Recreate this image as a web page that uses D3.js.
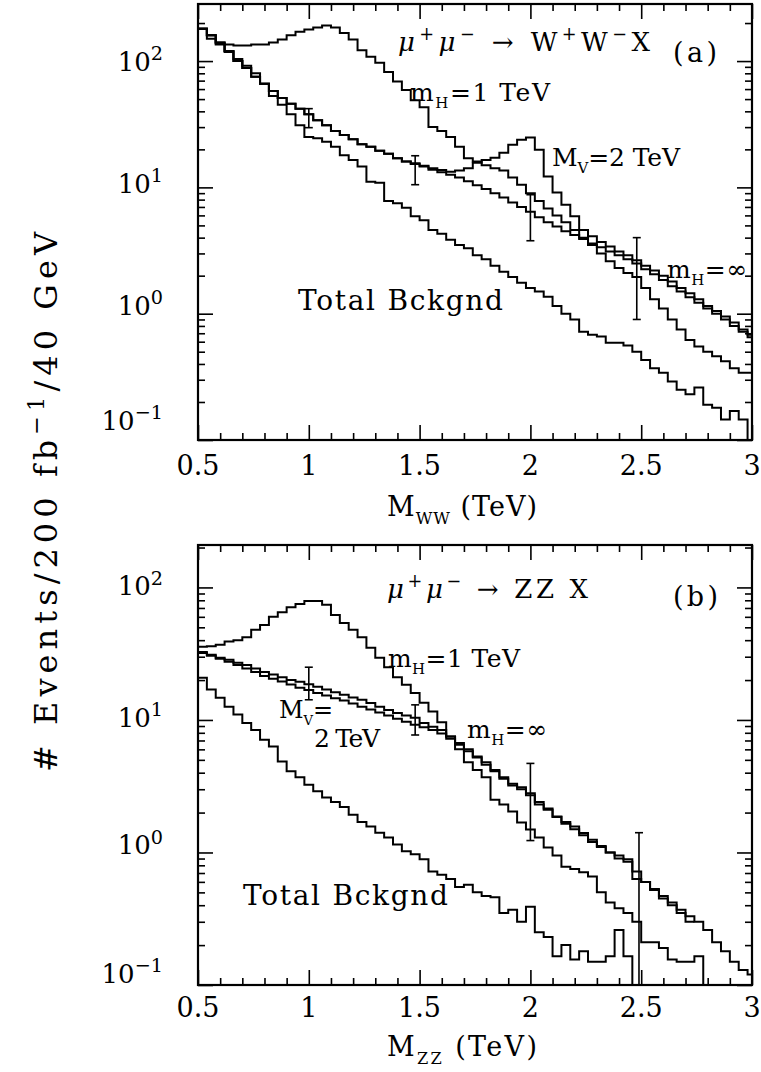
<!DOCTYPE html>
<html><head><meta charset="utf-8">
<script src="https://cdn.jsdelivr.net/npm/d3@7"></script>
<style>body{margin:0;background:#fff}text{font-family:"DejaVu Serif",serif;fill:#000}</style>
</head><body>
<svg id="c" width="761" height="1072"></svg>
<script>
// ---------- DATA ----------
const binLo = [0.50,0.54,0.58,0.62,0.66,0.70,0.74,0.78,0.82,0.86,0.90,0.94,0.98,1.02,1.06,1.10,1.14,1.18,1.22,1.26,1.30,1.34,1.38,1.42,1.46,1.50,1.54,1.58,1.62,1.66,1.70,1.74,1.78,1.82,1.86,1.90,1.94,1.98,2.02,2.06,2.10,2.14,2.18,2.22,2.26,2.30,2.34,2.38,2.42,2.46,2.50,2.54,2.58,2.62,2.66,2.70,2.74,2.78,2.82,2.86,2.90,2.94,2.98];
const binWidth = 0.04;

// panel (a): mu+mu- -> W+W-X
const wwH1 = [180,150,138,135,133,133,135,135,140,148,160,171,178,184,191,184,167,148,122,108,97,82,69,59,49,43,30,28,25,21,17,16,15,14.2,13.6,12,10.5,9.0,7.8,6.8,6.0,5.3,4.6,4.0,3.5,3.0,2.6,2.3,2.1,1.95,1.6,1.3,1.1,0.9,0.75,0.62,0.55,0.5,0.46,0.42,0.37,0.34,0.34];
const wwMV = [180,160,140,120,100,88,75,66,58,51,46,42,38,34,31,28,26,24,22,21,19.5,18.5,17,16,15.5,14.8,14.2,13.7,13.3,13.6,14.2,15.7,16.5,17.2,18.8,21.8,23.8,24.8,19.9,12.2,9.1,7.3,5.9,4.6,4.1,3.7,3.4,3.1,2.9,2.65,2.4,2.2,2.0,1.8,1.6,1.45,1.3,1.15,1.05,0.95,0.85,0.75,0.68];
const wwHinf = [180,160,140,120,100,88,75,66,58,51,46,42,38,34,31,28,26,24,22,21,19.5,18.5,17,16,15.3,14.6,13.8,13.2,12.6,12,11.2,10.4,9.7,9.0,8.3,7.6,7.0,6.4,5.8,5.3,4.9,4.5,4.2,3.9,3.6,3.35,3.1,2.9,2.7,2.5,2.25,2.05,1.85,1.65,1.5,1.35,1.22,1.1,1.0,0.9,0.8,0.72,0.65];
const wwBkg = [180,160,135,118,104,92,80,66,53,45,38,31,25,24.5,23,21,18,16.5,14.6,11.1,10.9,7.8,7.5,6.9,5.9,5.5,4.6,4.3,3.85,3.5,3.3,2.9,2.7,2.4,2.15,1.95,1.76,1.6,1.5,1.36,1.15,1.0,0.9,0.72,0.68,0.66,0.59,0.59,0.56,0.5,0.43,0.37,0.34,0.29,0.25,0.23,0.26,0.19,0.18,0.145,0.17,0.145,0.05];
const wwErrX = [1.00,1.48,2.00,2.48];
const wwErrLo = [29.7,10.5,3.78,0.90];
const wwErrHi = [42,17.8,8.75,4.0];

// panel (b): mu+mu- -> ZZ X
const zzH1 = [35.6,36,37,39,40,42,48,52,60,65,71,75,79,79,74,62,54,48,42,35,29.5,25,21,18.4,16,13.5,11.6,9.6,7.5,6.0,4.8,4.2,3.7,2.5,2.3,2.04,1.68,1.49,1.3,1.09,0.95,0.78,0.75,0.71,0.66,0.5,0.42,0.38,0.35,0.30,0.21,0.21,0.19,0.156,0.15,0.15,0.165,0.05,0.05,0.05,0.05,0.05,0.05];
const zzMV = [32,30.5,29,27.5,26,24.5,23,21.5,20.5,19.5,18.5,17.5,16.8,16,15.3,14.6,14,13.3,12.6,12,11.4,10.8,10.2,9.7,9.2,8.8,8.4,7.9,7.2,6.5,5.8,5.2,4.6,4.1,3.6,3.2,3.0,2.7,2.3,2.1,1.85,1.65,1.5,1.35,1.2,1.1,1.0,0.9,0.85,0.72,0.6,0.52,0.45,0.4,0.35,0.3,null,null,null,null,null,null,null];
const zzHinf = [32.6,31,29.5,28.5,27,26,24.5,23,22,21,20,19.4,18.6,17.8,17,16.2,15.5,14.8,14.2,13.4,12.6,11.9,11.3,10.8,10.4,9.5,8.9,8.4,7.5,6.7,6.0,5.3,4.8,4.2,3.7,3.3,3.1,2.8,2.4,2.15,1.87,1.7,1.57,1.4,1.25,1.12,1.0,0.95,0.89,0.63,0.6,0.53,0.47,0.42,0.37,0.33,0.3,0.26,0.21,0.18,0.15,0.13,0.12];
const zzBkg = [20.8,17,14.7,12.6,11,9.5,8.4,7.1,6.3,4.85,4.1,3.7,3.25,2.9,2.6,2.4,2.2,1.93,1.7,1.57,1.41,1.3,1.15,1.02,0.97,0.89,0.72,0.68,0.63,0.55,0.57,0.5,0.47,0.46,0.35,0.37,0.30,0.39,0.25,0.23,0.165,0.2,0.156,0.18,0.15,0.15,0.165,0.26,0.165,0.05,0.05,0.05,0.05,0.05,0.05,0.05,0.05,0.05,0.05,0.05,0.05,0.05,0.05];
const zzErrX = [1.00,1.48,2.00,2.49];
const zzErrLo = [14.2,7.7,1.23,0.05];
const zzErrHi = [25,13,4.7,1.41];

const xMajor = [0.5,1,1.5,2,2.5,3];
const xLabels = ["0.5","1","1.5","2","2.5","3"];
const yMajor = [0.1,1,10,100];
const yExp = ["\u22121","0","1","2"];

// ---------- DRAW ----------
const svg = d3.select("#c");

function rich(sel, x, y, parts, size, anchor, len) {
  const t = sel.append("text").attr("x", x).attr("y", y).attr("font-size", size)
    .attr("text-anchor", anchor || "start");
  let cur = 0;
  parts.forEach(p => {
    const shift = p.sup ? -0.42 * size : p.sub ? 0.28 * size : 0;
    const ts = t.append("tspan").text(p.t).attr("dy", shift - cur);
    if (p.sup || p.sub) ts.attr("font-size", size * (p.fs || 0.68));
    if (p.it) ts.attr("font-style", "italic");
    cur = shift;
  });
  if (len) t.attr("textLength", len).attr("lengthAdjust", "spacing");
  return t;
}

function panel(cfg) {
  const x = d3.scaleLinear().domain([0.5, 3]).range([cfg.left, cfg.right]);
  const y = d3.scaleLog().domain(cfg.yDom).range([cfg.bottom, cfg.top]);
  const g = svg.append("g");
  const id = "clip" + cfg.name;
  svg.append("clipPath").attr("id", id).append("rect")
    .attr("x", cfg.left).attr("y", cfg.top).attr("width", cfg.right - cfg.left).attr("height", cfg.bottom - cfg.top);

  const xMinor = d3.range(5, 31).map(v => v / 10).filter(v => xMajor.indexOf(v) < 0);
  const yMinor = [];
  [0.1, 1, 10, 100].forEach(d => { for (let m = 2; m <= 9; m++) { const v = d * m; if (v <= cfg.yDom[1]) yMinor.push(v); } });
  const tickStyle = s => { s.select(".domain").remove(); s.selectAll("line").attr("stroke", "#000").attr("stroke-width", 1.6); };
  g.append("g").attr("transform", `translate(0,${cfg.bottom})`).call(d3.axisBottom(x).tickValues(xMajor).tickSize(-15).tickFormat("")).call(tickStyle);
  g.append("g").attr("transform", `translate(0,${cfg.bottom})`).call(d3.axisBottom(x).tickValues(xMinor).tickSize(-7).tickFormat("")).call(tickStyle);
  g.append("g").attr("transform", `translate(0,${cfg.top})`).call(d3.axisTop(x).tickValues(xMajor).tickSize(-15).tickFormat("")).call(tickStyle);
  g.append("g").attr("transform", `translate(0,${cfg.top})`).call(d3.axisTop(x).tickValues(xMinor).tickSize(-7).tickFormat("")).call(tickStyle);
  g.append("g").attr("transform", `translate(${cfg.left},0)`).call(d3.axisLeft(y).tickValues(yMajor).tickSize(-15).tickFormat("")).call(tickStyle);
  g.append("g").attr("transform", `translate(${cfg.left},0)`).call(d3.axisLeft(y).tickValues(yMinor).tickSize(-7).tickFormat("")).call(tickStyle);
  g.append("g").attr("transform", `translate(${cfg.right},0)`).call(d3.axisRight(y).tickValues(yMajor).tickSize(-15).tickFormat("")).call(tickStyle);
  g.append("g").attr("transform", `translate(${cfg.right},0)`).call(d3.axisRight(y).tickValues(yMinor).tickSize(-7).tickFormat("")).call(tickStyle);

  const curves = g.append("g").attr("clip-path", `url(#${id})`);
  cfg.series.forEach(vals => {
    let d = "", open = false;
    vals.forEach((v, i) => {
      if (v == null) { open = false; return; }
      const x0 = x(binLo[i]), x1 = x(binLo[i] + binWidth), yy = y(v);
      if (!open) { d += `M${x0},${yy}`; open = true; } else { d += `V${yy}`; }
      d += `H${x1}`;
    });
    curves.append("path").attr("d", d).attr("fill", "none").attr("stroke", "#000").attr("stroke-width", 2);
  });
  cfg.errX.forEach((xv, i) => {
    const xx = x(xv), y0 = y(cfg.errLo[i]), y1 = y(cfg.errHi[i]);
    curves.append("line").attr("x1", xx).attr("x2", xx).attr("y1", y0).attr("y2", y1).attr("stroke", "#000").attr("stroke-width", 1.6);
    [y0, y1].forEach(yy => curves.append("line").attr("x1", xx - 4).attr("x2", xx + 4).attr("y1", yy).attr("y2", yy).attr("stroke", "#000").attr("stroke-width", 1.6));
  });

  g.append("rect").attr("x", cfg.left).attr("y", cfg.top).attr("width", cfg.right - cfg.left).attr("height", cfg.bottom - cfg.top)
    .attr("fill", "none").attr("stroke", "#000").attr("stroke-width", 2.2);

  xMajor.forEach((v, i) => g.append("text").attr("x", x(v)).attr("y", cfg.bottom + cfg.xLabDy).attr("text-anchor", "middle").attr("font-size", 27).text(xLabels[i]));
  yMajor.forEach((v, i) => rich(g, 163, y(v) + cfg.yLabDy[i], [{ t: "10" }, { t: yExp[i], sup: true, fs: 0.74 }], 26, "end"));
  return { g, x, y };
}

panel({ name: "a", left: 198, right: 752, top: 4, bottom: 440, yDom: [0.1, 283], xLabDy: 35,
  series: [wwH1, wwMV, wwHinf, wwBkg], errX: wwErrX, errLo: wwErrLo, errHi: wwErrHi, yLabDy: [-10, 1, 6, 10] });
panel({ name: "b", left: 198, right: 752, top: 545, bottom: 985, yDom: [0.1, 209], xLabDy: 32,
  series: [zzH1, zzMV, zzHinf, zzBkg], errX: zzErrX, errLo: zzErrLo, errHi: zzErrHi, yLabDy: [-2, 2, 7, 8] });

// axis titles
rich(svg, 387, 516, [{ t: "M" }, { t: "WW", sub: true, fs: 0.6 }, { t: " (TeV)" }], 27, "start", 150);
rich(svg, 387, 1056, [{ t: "M" }, { t: "ZZ", sub: true, fs: 0.6 }, { t: " (TeV)" }], 27, "start", 150);
rich(svg, 0, 0, [{ t: "# Events/200 fb" }, { t: "\u22121", sup: true, fs: 0.7 }, { t: "/40 GeV" }], 32, "middle", 540)
  .attr("transform", "translate(57,502) rotate(-90)");

// panel (a) annotations
rich(svg, 398, 51, [{ t: "\u03bc", it: true }, { t: "+", sup: true }, { t: "\u03bc", it: true }, { t: "\u2212", sup: true }, { t: " \u2192 W" }, { t: "+", sup: true }, { t: "W" }, { t: "\u2212", sup: true }, { t: "X" }], 26, "start", 252);
rich(svg, 673, 62, [{ t: "(a)" }], 27, "start", 44);
rich(svg, 410, 101, [{ t: "m" }, { t: "H", sub: true, fs: 0.6 }, { t: "=1 TeV" }], 25, "start", 140);
rich(svg, 552, 166, [{ t: "M" }, { t: "V", sub: true, fs: 0.6 }, { t: "=2 TeV" }], 25, "start", 128);
rich(svg, 667, 278, [{ t: "m" }, { t: "H", sub: true, fs: 0.6 }, { t: "=\u221e" }], 25, "start", 80);
rich(svg, 298, 310, [{ t: "Total Bckgnd" }], 28, "start", 205);

// panel (b) annotations
rich(svg, 387, 598, [{ t: "\u03bc", it: true }, { t: "+", sup: true }, { t: "\u03bc", it: true }, { t: "\u2212", sup: true }, { t: " \u2192 ZZ X" }], 26, "start", 201);
rich(svg, 673, 606, [{ t: "(b)" }], 27, "start", 45);
rich(svg, 388, 667, [{ t: "m" }, { t: "H", sub: true, fs: 0.6 }, { t: "=1 TeV" }], 25, "start", 132);
rich(svg, 279, 718, [{ t: "M" }, { t: "V", sub: true, fs: 0.55 }, { t: "=" }], 24, "start");
rich(svg, 314, 747, [{ t: "2 TeV" }], 25, "start", 66);
rich(svg, 467, 738, [{ t: "m" }, { t: "H", sub: true, fs: 0.6 }, { t: "=\u221e" }], 25, "start", 80);
rich(svg, 243, 905, [{ t: "Total Bckgnd" }], 28, "start", 205);
</script>
</body></html>
